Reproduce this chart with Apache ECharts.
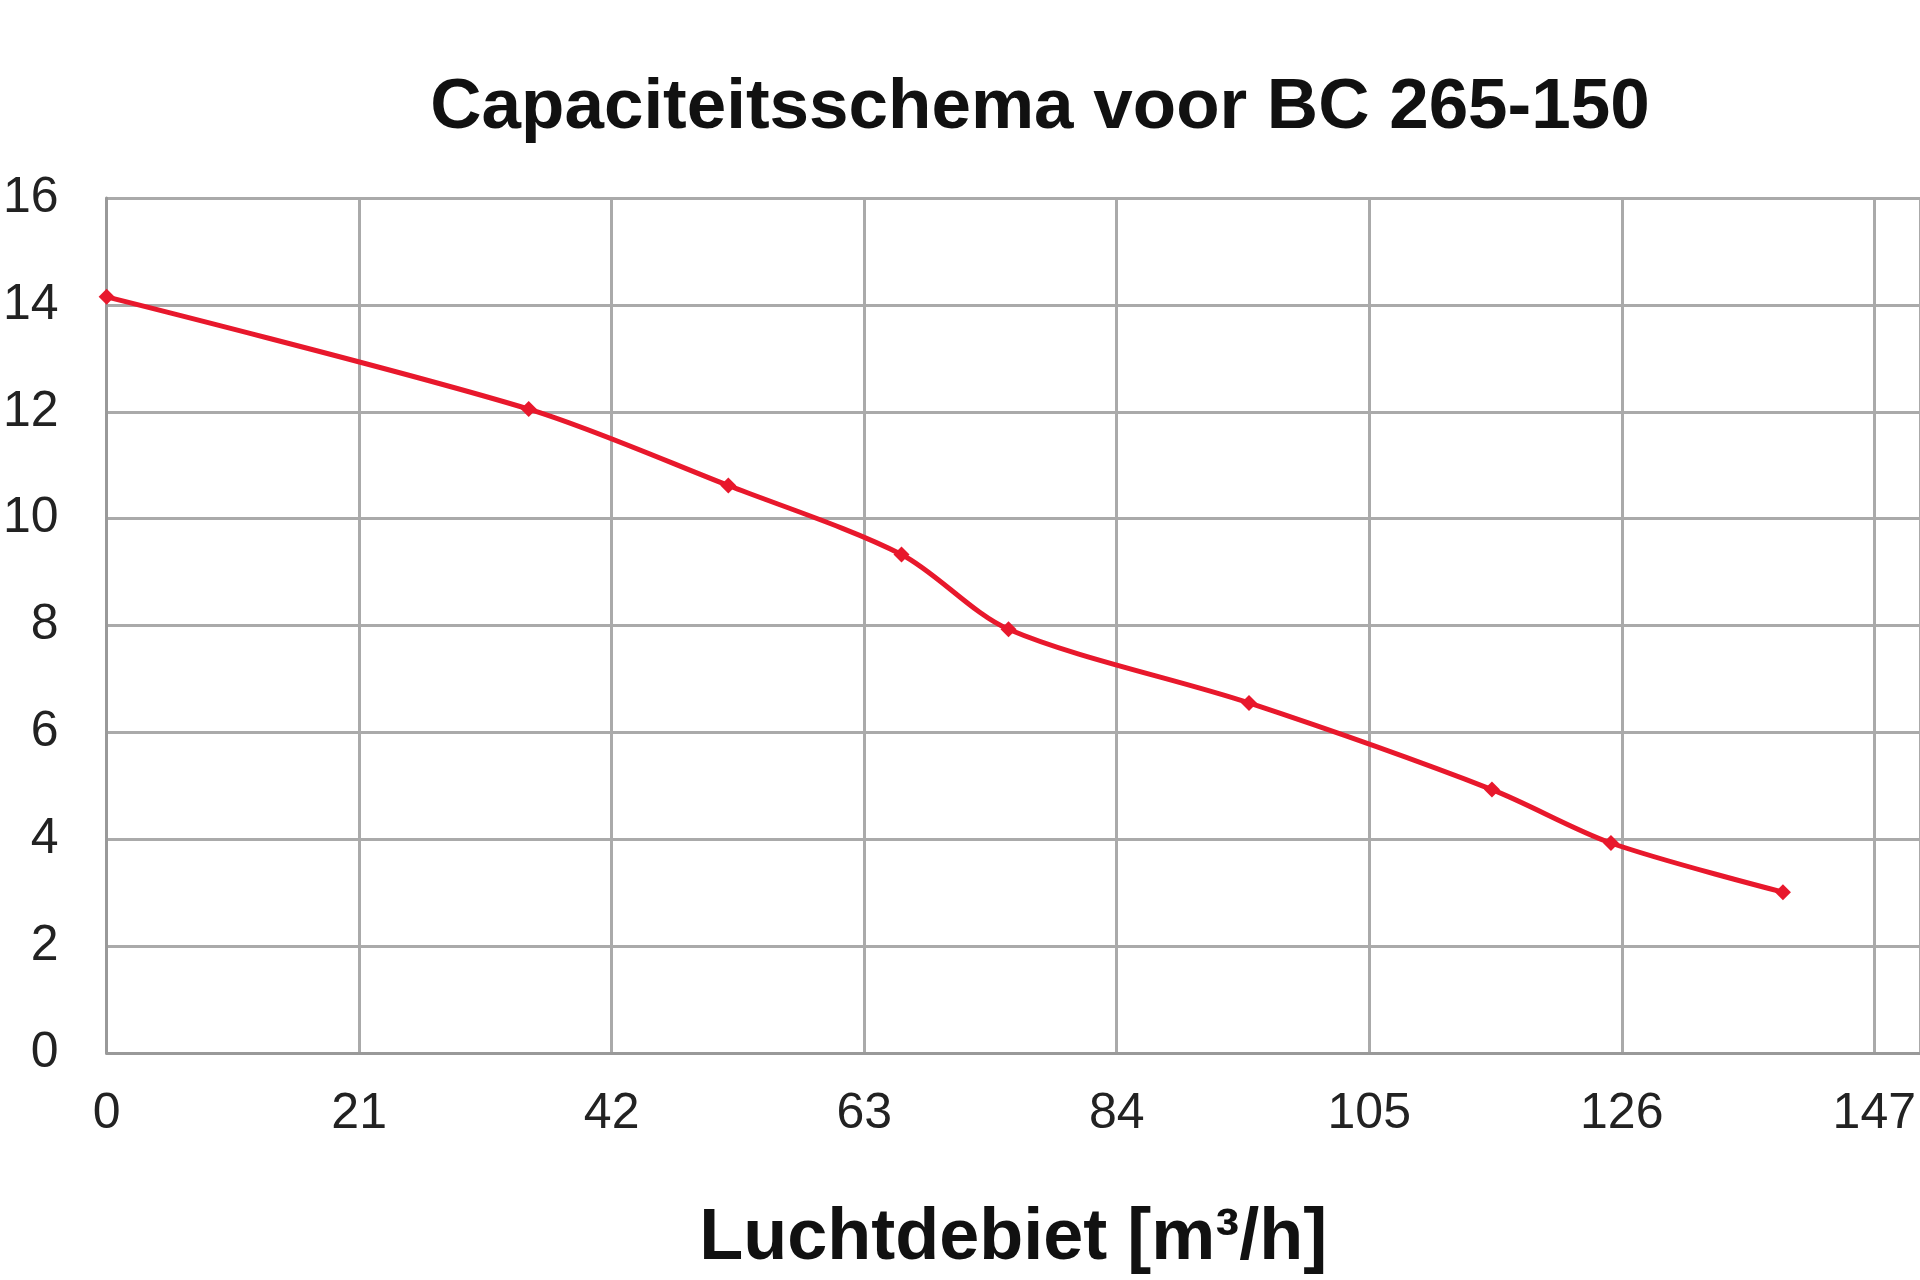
<!DOCTYPE html>
<html lang="nl">
<head>
<meta charset="UTF-8">
<title>Capaciteitsschema voor BC 265-150</title>
<script src="https://cdn.jsdelivr.net/npm/echarts@6.0.0/dist/echarts.min.js"></script>
<style>
    html, body { margin: 0; padding: 0; background: #fff; overflow: hidden; }
    #chart { width: 1920px; height: 1280px; }
</style>
</head>
<body>
<div id="chart"></div>
<script>
    // airflow [m3/h] and pressure values
    const airflow = [0, 35.1, 51.7, 66.1, 75.0, 95.0, 115.2, 125.1, 139.4];
    const pressure = [14.15, 12.05, 10.62, 9.33, 7.93, 6.55, 4.93, 3.93, 3.01];

    const chart = echarts.init(document.getElementById('chart'));
    chart.setOption({
        animation: false,
        title: {
            text: 'Capaciteitsschema voor BC 265-150',
            left: 1035,
            top: 68,
            textAlign: 'center',
            textStyle: { fontFamily: 'Liberation Sans', fontSize: 71, fontWeight: 'bold', color: '#111' }
        },
        grid: { left: 91, right: 0, top: 198, bottom: 215 },
        xAxis: {
            type: 'value', min: 0, max: 150.8, interval: 21,
            name: 'Luchtdebiet [m³/h]', nameLocation: 'middle', nameGap: 150,
            nameTextStyle: { fontFamily: 'Liberation Sans', fontSize: 72, fontWeight: 'bold', color: '#111', padding: [0, 0, 0, 0] },
            axisLine: { lineStyle: { color: '#999', width: 3 } },
            axisTick: { show: false },
            axisLabel: { fontFamily: 'Liberation Sans', fontSize: 50, color: '#222', margin: 36, showMaxLabel: false },
            splitLine: { lineStyle: { color: '#aaa', width: 3 } }
        },
        yAxis: {
            type: 'value', min: 0, max: 16, interval: 2,
            axisLine: { show: true, lineStyle: { color: '#999', width: 3 } },
            axisTick: { show: false },
            axisLabel: { fontFamily: 'Liberation Sans', fontSize: 50, color: '#222', margin: 48 },
            splitLine: { lineStyle: { color: '#aaa', width: 3 } }
        },
        series: [{
            type: 'line',
            data: airflow.map((x, i) => [x, pressure[i]]),
            smooth: 0.3,
            symbol: 'diamond',
            symbolSize: 16,
            lineStyle: { color: '#e8182c', width: 5 },
            itemStyle: { color: '#e8182c' }
        }]
    });
</script>
</body>
</html>
